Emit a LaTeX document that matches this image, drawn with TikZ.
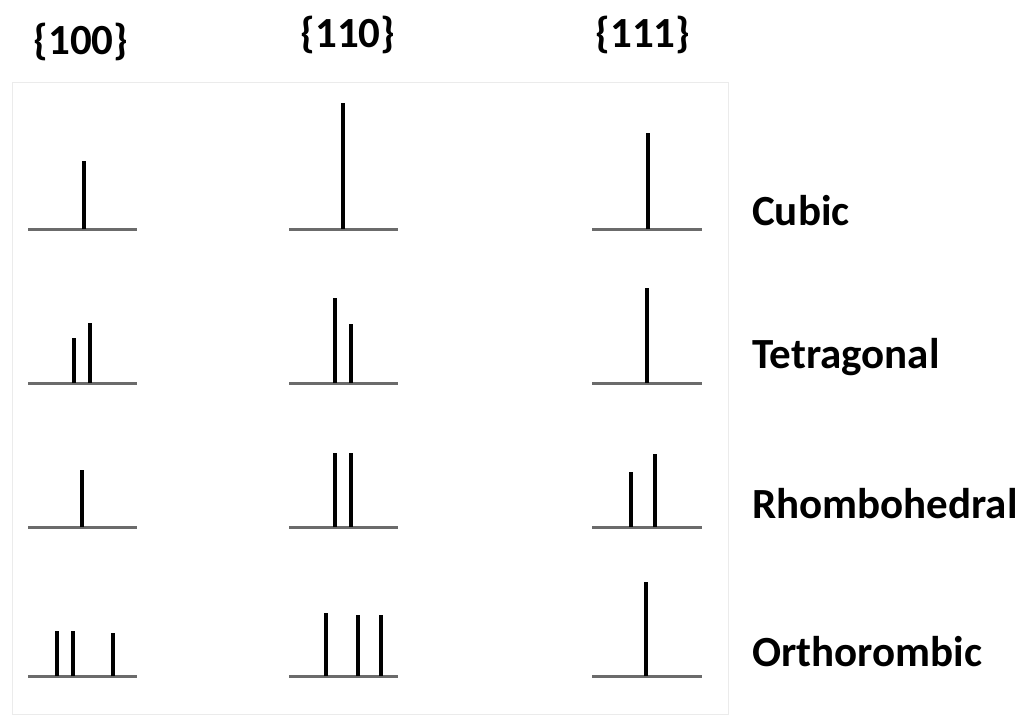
\documentclass[tikz,border=0pt]{standalone}
\usepackage{fontspec}
\setmainfont{Carlito}
\begin{document}
\begin{tikzpicture}[x=1pt,y=-1pt,
  base/.style={line width=3pt,draw=black!58},
  peak/.style={line width=3.5pt,draw=black},
  hdr/.style={font=\fontsize{43}{50}\selectfont\bfseries,anchor=base,inner sep=0pt},
  lbl/.style={font=\fontsize{43}{50}\selectfont\bfseries,anchor=base west,inner sep=0pt}]
\useasboundingbox (0,0) rectangle (1021,721);
\draw[black!8,line width=1pt] (12,82) rectangle (728,714);
% headers
\node[hdr] (h1) at (81,54) {\{100\}};
\node[hdr] (h2) at (348,47) {\{110\}};
\node[hdr] (h3) at (643,47) {\{111\}};
% row labels
\node[lbl] (l1) at (752,225) {Cubic};
\node[lbl] (l2) at (752,368) {Tetragonal};
\node[lbl] (l3) at (752,518) {Rhombohedral};
\node[lbl] (l4) at (752,666) {Orthorombic};
% baselines
\foreach \y [count=\r] in {229,383,527,676}{
  \draw[base] (28,\y) -- (137,\y);
  \draw[base] (289,\y) -- (398,\y);
  \draw[base] (592,\y) -- (702,\y);
}
% row 1 cubic
\draw[peak] (84,229) -- (84,161);
\draw[peak] (343,229) -- (343,103);
\draw[peak] (648,229) -- (648,133);
% row 2 tetragonal
\draw[peak] (74,383) -- (74,338);
\draw[peak] (90,383) -- (90,323);
\draw[peak] (335,383) -- (335,298);
\draw[peak] (351,383) -- (351,324);
\draw[peak] (647,383) -- (647,288);
% row 3 rhombohedral
\draw[peak] (82,527) -- (82,470);
\draw[peak] (335,527) -- (335,453);
\draw[peak] (351,527) -- (351,453);
\draw[peak] (631,527) -- (631,472);
\draw[peak] (655,527) -- (655,454);
% row 4 orthorombic
\draw[peak] (57,676) -- (57,631);
\draw[peak] (73,676) -- (73,631);
\draw[peak] (113,676) -- (113,633);
\draw[peak] (326,676) -- (326,613);
\draw[peak] (358,676) -- (358,615);
\draw[peak] (381,676) -- (381,615);
\draw[peak] (646,676) -- (646,582);
\end{tikzpicture}
\end{document}
